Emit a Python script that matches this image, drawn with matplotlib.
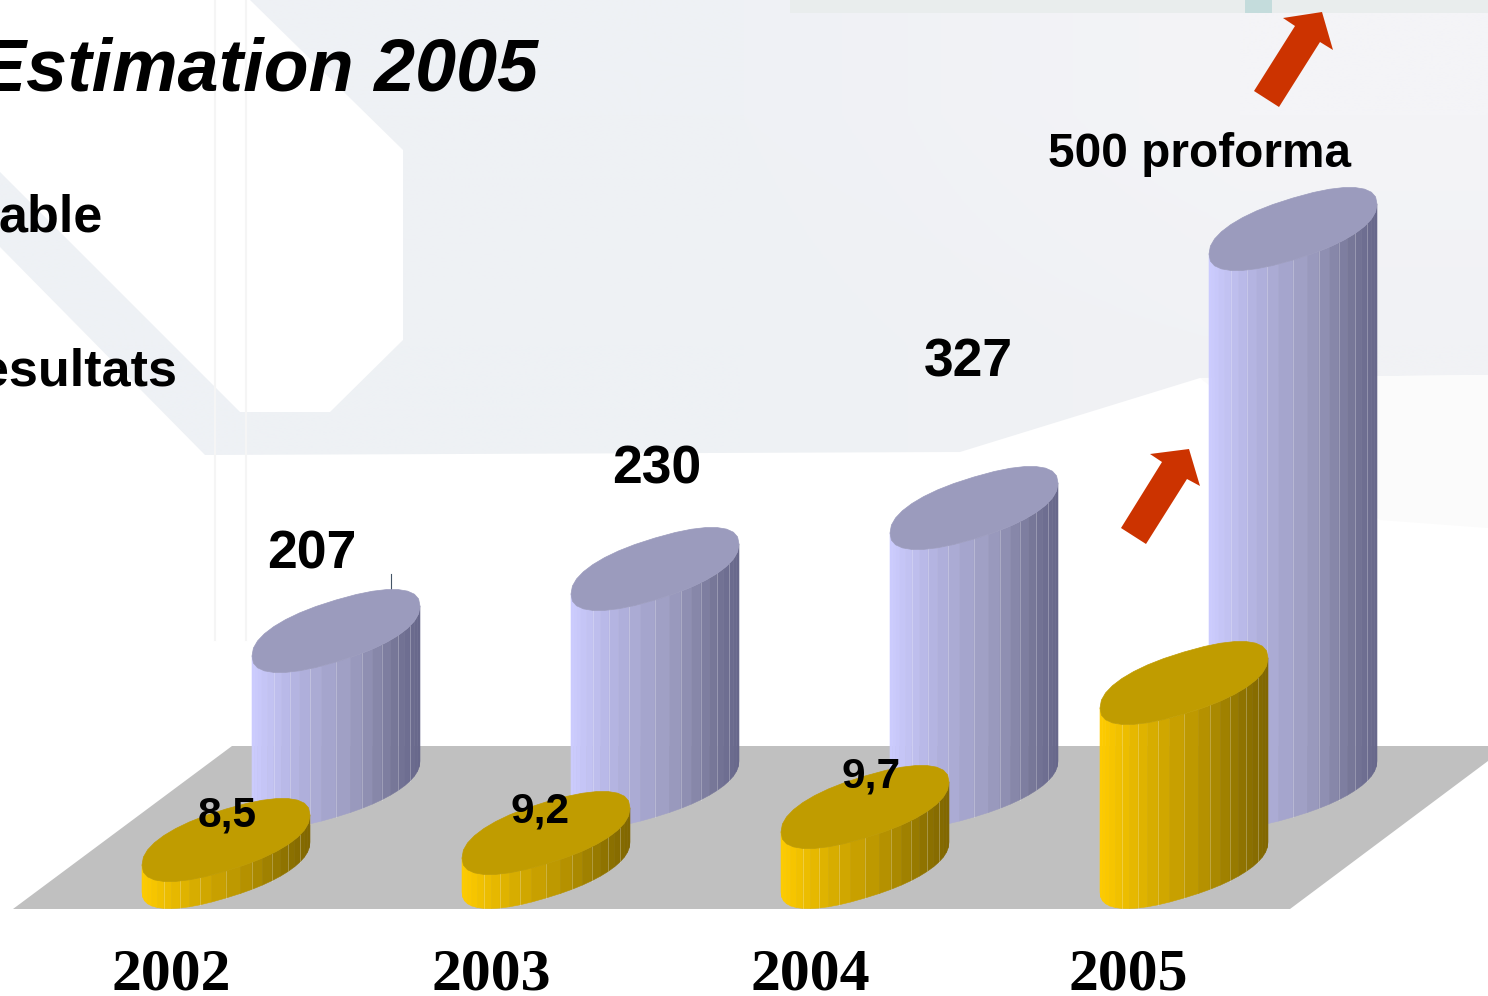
import numpy as np
import matplotlib
matplotlib.use("Agg")
import matplotlib.pyplot as plt
from matplotlib.colors import LinearSegmentedColormap, to_rgb
from matplotlib.patches import Polygon

years = ["2002", "2003", "2004", "2005"]
# labels as printed on the slide
blue_labels = ["207", "230", "327", "500 proforma"]
gold_labels = ["8,5", "9,2", "9,7", ""]
# heights as they are drawn (the slide is not to scale with its labels)
blue_heights = [155, 217, 278, 557]
gold_heights = [27, 34, 60, 184]

blue_x = [336, 655, 974, 1293]
gold_x = [226, 546, 865, 1184]
blue_base = 786
gold_base = 867
rx = 84

blue_cmap = LinearSegmentedColormap.from_list(
    "b", [(0, "#ccccff"), (0.3, "#b0b0dc"), (0.6, "#9c9cc0"), (0.85, "#777798"), (1, "#66668a")])
gold_cmap = LinearSegmentedColormap.from_list(
    "g", [(0, "#ffcc00"), (0.3, "#d9ae00"), (0.6, "#b89400"), (0.85, "#8f7300"), (1, "#806600")])


def squircle(t):
    # ellipse pushed slightly out to a superellipse, like the slide's facets
    e = 2 / 2.3
    return np.sign(np.cos(t)) * np.abs(np.cos(t)) ** e, np.sign(np.sin(t)) * np.abs(np.sin(t)) ** e


def ell_x(cx, t):
    return cx + rx * squircle(t)[0]


def ell_y(cy, t):
    u, v = squircle(t)
    return cy - 25 * u + 31 * v


def cylinder(ax, cx, base, h, cmap, top_color, z):
    cy = base - h
    # side strips, front half of the outline only
    t = np.linspace(np.pi, 0, 25)
    for i in range(len(t) - 1):
        x0, x1 = ell_x(cx, t[i]), ell_x(cx, t[i + 1])
        xs = [x0, x1, x1, x0]
        ys = [ell_y(cy, t[i]), ell_y(cy, t[i + 1]), ell_y(base, t[i + 1]), ell_y(base, t[i])]
        c = cmap((0.5 * (x0 + x1) - (cx - rx)) / (2 * rx))
        ax.fill(xs, ys, color=c, lw=0.4, zorder=z)
        if i % 2 == 1 and 3 < i < 21:
            ax.plot([x1, x1], [ell_y(cy, t[i + 1]), ell_y(base, t[i + 1])],
                    color="white", alpha=0.25, lw=0.7, zorder=z + 0.1)
    tt = np.linspace(0, 2 * np.pi, 33)
    ax.fill(ell_x(cx, tt), ell_y(cy, tt), color=top_color, lw=0.5, zorder=z + 0.2)


fig = plt.figure(figsize=(14.88, 9.96), dpi=100, facecolor="white")
ax = fig.add_axes([0, 0, 1, 1])
ax.set_xlim(0, 1488)
ax.set_ylim(996, 0)
ax.axis("off")

# pale slide background, left to right shading clipped to the shape
pale = np.array([[to_rgb("#eef1f5"), to_rgb("#eff1f5"), to_rgb("#f4f4f7")],
                 [to_rgb("#eef1f5"), to_rgb("#eef1f4"), to_rgb("#f1f2f5")]])
im = ax.imshow(pale, extent=(0, 1488, 460, 0), aspect="auto", interpolation="bilinear", zorder=0)
shape = Polygon(list(zip([250, 1488, 1488, 1200, 960, 205, 0, 0, 240, 330, 403, 403],
                         [0, 0, 375, 378, 452, 455, 247, 172, 412, 412, 340, 150])),
                transform=ax.transData, fc="none", ec="none")
ax.add_patch(shape)
im.set_clip_path(shape)
ax.set_xlim(0, 1488)
ax.set_ylim(996, 0)

ax.fill([790, 1488, 1488, 790], [0, 0, 13, 13], color="#e9eded", lw=0, zorder=0.1)
ax.fill([1245, 1272, 1272, 1245], [0, 0, 13, 13], color="#c4dcdc", lw=0, zorder=0.2)
ax.fill([1200, 1488, 1488, 1380], [378, 375, 528, 520], color="#fbfbfb", lw=0, zorder=0)
ax.plot([215, 215], [0, 640], color="#f5f5f5", lw=1.5, zorder=0.3)
ax.plot([246, 246], [0, 640], color="#f5f5f5", lw=1.5, zorder=0.3)

# floor
ax.fill([13, 232, 1488, 1488, 1290], [909, 746, 746, 761, 909], color="#c0c0c0", lw=0, zorder=1)

for i in range(len(years)):
    cylinder(ax, blue_x[i], blue_base, blue_heights[i], blue_cmap, "#9b9bbd", 2 + i)
for i in range(len(years)):
    cylinder(ax, gold_x[i], gold_base, gold_heights[i], gold_cmap, "#c09c00", 7 + i)

ax.plot([391, 391], [574, 592], color="#445566", lw=0.8, zorder=2)

# red arrows
ax.fill([1121, 1146, 1187, 1200, 1189, 1150, 1162],
        [528, 544, 479, 486, 449, 454, 462], color="#cc3300", lw=0, zorder=12)
ax.fill([1254, 1279, 1320, 1333, 1322, 1283, 1295],
        [91, 107, 42, 50, 12, 18, 26], color="#cc3300", lw=0, zorder=12)

sans = "Liberation Sans"
ax.text(538, 71, "Estimation 2005", family=sans, weight="bold", style="italic", fontsize=53,
        ha="right", va="center", zorder=15)
ax.text(103, 218, "able", family=sans, weight="bold", fontsize=37.5, ha="right", va="center", zorder=15)
ax.text(177, 372, "esultats", family=sans, weight="bold", fontsize=37.5, ha="right", va="center", zorder=15)

blue_label_pos = [(312, 554), (657, 469), (968, 362), (1200, 154)]
blue_label_size = [38.5, 38.5, 38.5, 34.4]
for i in range(len(years)):
    ax.text(blue_label_pos[i][0], blue_label_pos[i][1], blue_labels[i], family=sans, weight="bold",
            fontsize=blue_label_size[i], ha="center", va="center", zorder=15)

gold_label_pos = [(227, 815), (540, 811), (871, 776)]
for i in range(3):
    ax.text(gold_label_pos[i][0], gold_label_pos[i][1], gold_labels[i], family=sans, weight="bold",
            fontsize=30.5, ha="center", va="center", zorder=15)

year_x = [171, 491, 810, 1128]
for i in range(len(years)):
    ax.text(year_x[i], 975, years[i], family="Liberation Serif", weight="bold", fontsize=43,
            ha="center", va="center", zorder=15)

fig.savefig("out.png", dpi=100, facecolor="white")
